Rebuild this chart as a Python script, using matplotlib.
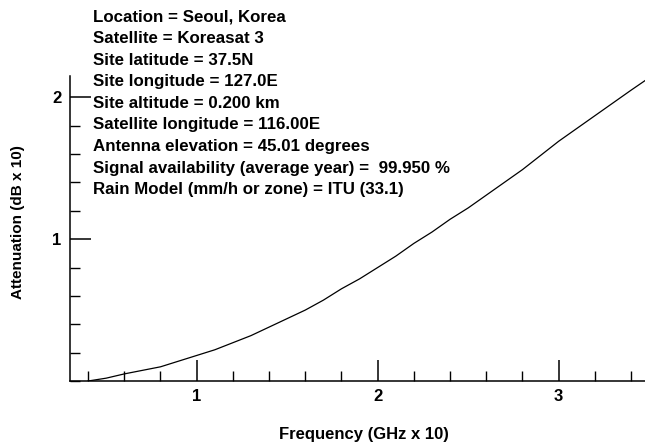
import numpy as np
import matplotlib
matplotlib.use('Agg')
import matplotlib.pyplot as plt
from matplotlib.ticker import MultipleLocator, FixedLocator

# curve (frequency in GHz x 10, attenuation in dB x 10)
freq = [0.4, 0.5, 0.6, 0.7, 0.8, 0.9, 1.0, 1.1, 1.2, 1.3, 1.4, 1.5, 1.6, 1.7,
        1.8, 1.9, 2.0, 2.1, 2.2, 2.3, 2.4, 2.5, 2.6, 2.7, 2.8, 2.9, 3.0, 3.1,
        3.2, 3.3, 3.4, 3.48]
atten = [0.0, 0.02, 0.05, 0.075, 0.10, 0.14, 0.18, 0.22, 0.27, 0.32, 0.38,
         0.44, 0.50, 0.57, 0.65, 0.72, 0.80, 0.88, 0.97, 1.05, 1.14, 1.22,
         1.31, 1.40, 1.49, 1.59, 1.69, 1.78, 1.87, 1.96, 2.05, 2.12]

x_major = [1, 2, 3]
y_major = [1, 2]

info_lines = [
    'Location = Seoul, Korea',
    'Satellite = Koreasat 3',
    'Site latitude = 37.5N',
    'Site longitude = 127.0E',
    'Site altitude = 0.200 km',
    'Satellite longitude = 116.00E',
    'Antenna elevation = 45.01 degrees',
    'Signal availability (average year) =  99.950 %',
    'Rain Model (mm/h or zone) = ITU (33.1)',
]

plt.rcParams['font.family'] = ['Liberation Sans', 'DejaVu Sans']
plt.rcParams['font.weight'] = 'bold'

fig = plt.figure(figsize=(6.45, 4.46), dpi=100)
ax = fig.add_axes([70 / 645, 65 / 446, 575 / 645, 305 / 446])

ax.plot(freq, atten, color='black', lw=0.9)

ax.set_xlim(0.3, 3.477)
ax.set_ylim(0, 2.15)
ax.spines['top'].set_visible(False)
ax.spines['right'].set_visible(False)
ax.spines['left'].set_linewidth(1.1)
ax.spines['bottom'].set_linewidth(1.1)

ax.xaxis.set_major_locator(FixedLocator(x_major))
ax.xaxis.set_minor_locator(MultipleLocator(0.2))
ax.yaxis.set_major_locator(FixedLocator(y_major))
ax.yaxis.set_minor_locator(MultipleLocator(0.2))
ax.tick_params(which='major', direction='in', length=15, width=1.1,
               labelsize=12, pad=6)
ax.tick_params(which='minor', direction='in', length=7, width=1.0)

# axis titles placed by hand, like the original
fig.text(364 / 645, 1 - 435 / 446, 'Frequency (GHz x 10)', fontsize=12,
         ha='center', va='center')
fig.text(18 / 645, 1 - 222 / 446, 'Attenuation (dB x 10)', fontsize=11,
         ha='center', va='center', rotation=90)

for i, line in enumerate(info_lines):
    fig.text(93 / 645, 1 - (17 + i * 21.6) / 446, line, fontsize=12.2,
             va='center', ha='left')

fig.savefig('out.png', dpi=100)
